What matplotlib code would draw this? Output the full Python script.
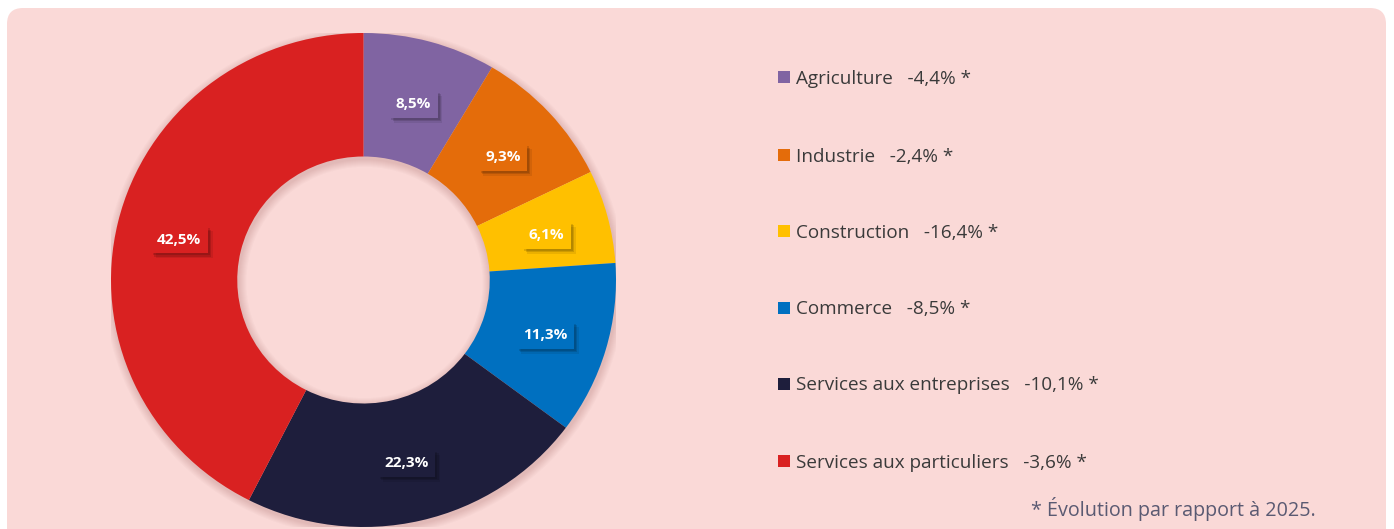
import matplotlib
matplotlib.use("Agg")
import matplotlib.pyplot as plt
from matplotlib.patches import FancyBboxPatch, Wedge
import matplotlib.patheffects as pe
import matplotlib.transforms as mtransforms
import numpy as np

categories = ["Agriculture", "Industrie", "Construction", "Commerce",
              "Services aux entreprises", "Services aux particuliers"]
shares = [8.5, 9.3, 6.1, 11.3, 22.3, 42.5]
share_labels = ["8,5%", "9,3%", "6,1%", "11,3%", "22,3%", "42,5%"]
evolutions = ["-4,4% *", "-2,4% *", "-16,4% *", "-8,5% *", "-10,1% *", "-3,6% *"]
colors = ["#8064A2", "#E46C0A", "#FFC000", "#0070C0", "#1E1E3C", "#D92121"]
footnote = "* Évolution par rapport à 2025."

W, H = 1394, 529
fig = plt.figure(figsize=(W / 100, H / 100), dpi=100)
fig.patch.set_facecolor("white")

# background panel + legend axes (pixel coordinates)
bg = fig.add_axes([0, 0, 1, 1])
bg.set_xlim(0, W)
bg.set_ylim(0, H)
bg.axis("off")
bg.add_patch(FancyBboxPatch((7, -40), 1379, 521 + 40, boxstyle="round,pad=0,rounding_size=16",
                            facecolor="#FAD9D7", edgecolor="none", zorder=0))

font = "Open Sans"
ys = [77, 155, 231, 308, 384, 461]
for cat, ev, col, yy in zip(categories, evolutions, colors, ys):
    yd = H - yy
    bg.add_patch(plt.Rectangle((778, yd - 6), 12, 12, facecolor=col, edgecolor="none", zorder=3))
    bg.text(796, yd - 1.5, cat + "   " + ev, ha="left", va="center", fontsize=13.6,
            color="#3A3A3A", family=font, zorder=3)

bg.text(1316, H - 509, footnote, ha="right", va="center", fontsize=14.2,
        color="#5A5A72", family=font, zorder=3)

# donut axes: x 111..616, y 33..527 (image coords)
x0, x1, y0, y1 = 111, 616, 33, 527
pax = fig.add_axes([x0 / W, (H - y1) / H, (x1 - x0) / W, (y1 - y0) / H])
pax.set_xlim(-1, 1)
pax.set_ylim(-1, 1)
pax.set_aspect("auto")
pax.axis("off")
pax.patch.set_alpha(0)

rin = 0.5
# soft shadow
for k in range(1, 9):
    d = k / 250.0
    pax.add_patch(Wedge((0.004, -0.01), 1 + d, 0, 360, width=1 + d - (rin - d),
                        facecolor="#7A3030", alpha=0.025, edgecolor="none", zorder=1))

wedges, _ = pax.pie(shares, colors=colors, startangle=90, counterclock=False,
                    radius=1, center=(0, 0), frame=True,
                    wedgeprops=dict(width=1 - rin, edgecolor="none", linewidth=0))
for w in wedges:
    w.set_zorder(2)
pax.set_xlim(-1, 1)
pax.set_ylim(-1, 1)
pax.set_aspect("auto")
pax.axis("off")

label_tr = mtransforms.offset_copy(pax.transData, fig=fig, x=0, y=-3, units="dots")
rmid = (1 + rin) / 2
cum = 0
for s, lab, col in zip(shares, share_labels, colors):
    mid = (cum + s / 2) / 100 * 2 * np.pi
    cum += s
    x = rmid * np.sin(mid)
    y = rmid * np.cos(mid)
    t = pax.text(x, y, lab, ha="center", va="center", color="white", fontsize=11,
                 fontweight="bold", family=font, zorder=5, transform=label_tr,
                 bbox=dict(boxstyle="square,pad=0.42", facecolor=col, edgecolor="none"))
    t.get_bbox_patch().set_path_effects([
        pe.SimplePatchShadow(offset=(1.5, -1.5), shadow_rgbFace="black", alpha=0.12),
        pe.SimplePatchShadow(offset=(2.5, -2.5), shadow_rgbFace="black", alpha=0.12),
        pe.SimplePatchShadow(offset=(3.5, -3.5), shadow_rgbFace="black", alpha=0.08),
        pe.Normal()])

fig.savefig("out.png", dpi=100, facecolor=fig.get_facecolor())
